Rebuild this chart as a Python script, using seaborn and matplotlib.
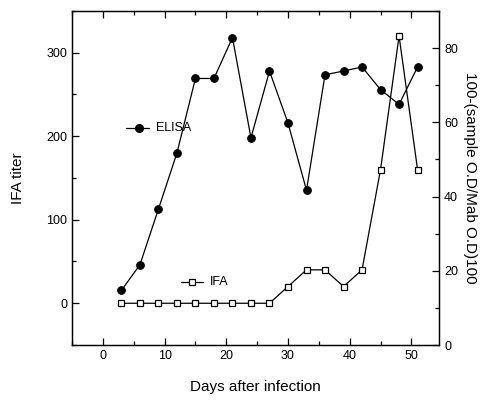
import matplotlib
matplotlib.use("Agg")
import matplotlib.pyplot as plt
import seaborn as sns
import pandas as pd
from matplotlib.ticker import MultipleLocator

days = [3, 6, 9, 12, 15, 18, 21, 24, 27, 30, 33, 36, 39, 42, 45, 48, 51]
elisa = [14.7, 21.6, 36.6, 51.7, 71.8, 71.8, 82.8, 55.8, 73.8, 59.8, 41.7, 72.8, 73.8, 74.9, 68.8, 64.8, 74.9]
ifa = [0, 0, 0, 0, 0, 0, 0, 0, 0, 20, 40, 40, 20, 40, 160, 320, 160]

sns.set_theme(style="ticks")
plt.rcParams['font.family'] = ['Liberation Sans', 'DejaVu Sans']
plt.rcParams['axes.labelcolor'] = 'black'
plt.rcParams['text.color'] = 'black'

df = pd.DataFrame({"day": days, "elisa": elisa, "ifa": ifa})

fig = plt.figure(figsize=(4.85, 4.04), dpi=100)
ax = fig.add_axes([0.1485, 0.146, 0.757, 0.827])
ax2 = ax.twinx()

sq = dict(marker="s", markersize=4.2, markerfacecolor="white",
          markeredgecolor="black", markeredgewidth=0.9)
ci = dict(marker="o", markersize=5.5, markerfacecolor="black",
          markeredgecolor="black")

sns.lineplot(data=df, x="day", y="ifa", ax=ax, color="black", lw=0.9, **sq)
sns.lineplot(data=df, x="day", y="elisa", ax=ax2, color="black", lw=0.9, **ci)

ax.set_xlim(-5, 54.5)
ax.set_ylim(-50, 350)
ax2.set_ylim(0, 90)

ax.xaxis.set_major_locator(MultipleLocator(10))
ax.xaxis.set_minor_locator(MultipleLocator(5))
ax.yaxis.set_major_locator(MultipleLocator(100))
ax.yaxis.set_minor_locator(MultipleLocator(50))
ax2.yaxis.set_major_locator(MultipleLocator(20))
ax2.yaxis.set_minor_locator(MultipleLocator(10))

for a in (ax, ax2):
    for s in a.spines.values():
        s.set_visible(True)
        s.set_linewidth(0.9)
        s.set_color("black")
ax.tick_params(axis="both", which="both", direction="in", top=True, labelsize=9, colors="black")
ax.tick_params(which="major", length=5, width=0.9)
ax.tick_params(which="minor", length=3, width=0.9)
ax.tick_params(axis="y", which="both", right=False)
ax2.tick_params(axis="y", which="both", direction="in", labelsize=9, colors="black")
ax2.tick_params(which="major", length=5, width=0.9)
ax2.tick_params(which="minor", length=3, width=0.9)

ax.set_xlabel("Days after infection", fontsize=11, labelpad=13)
ax.set_ylabel("IFA titer", fontsize=11, labelpad=15)
ax2.set_ylabel("100-(sample O.D/Mab O.D)100", fontsize=11, rotation=270, labelpad=14)

# inline legend
ax.plot([3.8, 7.5], [210, 210], color="black", lw=0.9)
ax.plot([5.9], [210], **ci)
ax.text(8.6, 210, "ELISA", fontsize=9, va="center")
ax.plot([12.7, 16.3], [25, 25], color="black", lw=0.9)
ax.plot([14.5], [25], **sq)
ax.text(17.3, 25, "IFA", fontsize=9, va="center")

fig.savefig("out.png", dpi=100)
